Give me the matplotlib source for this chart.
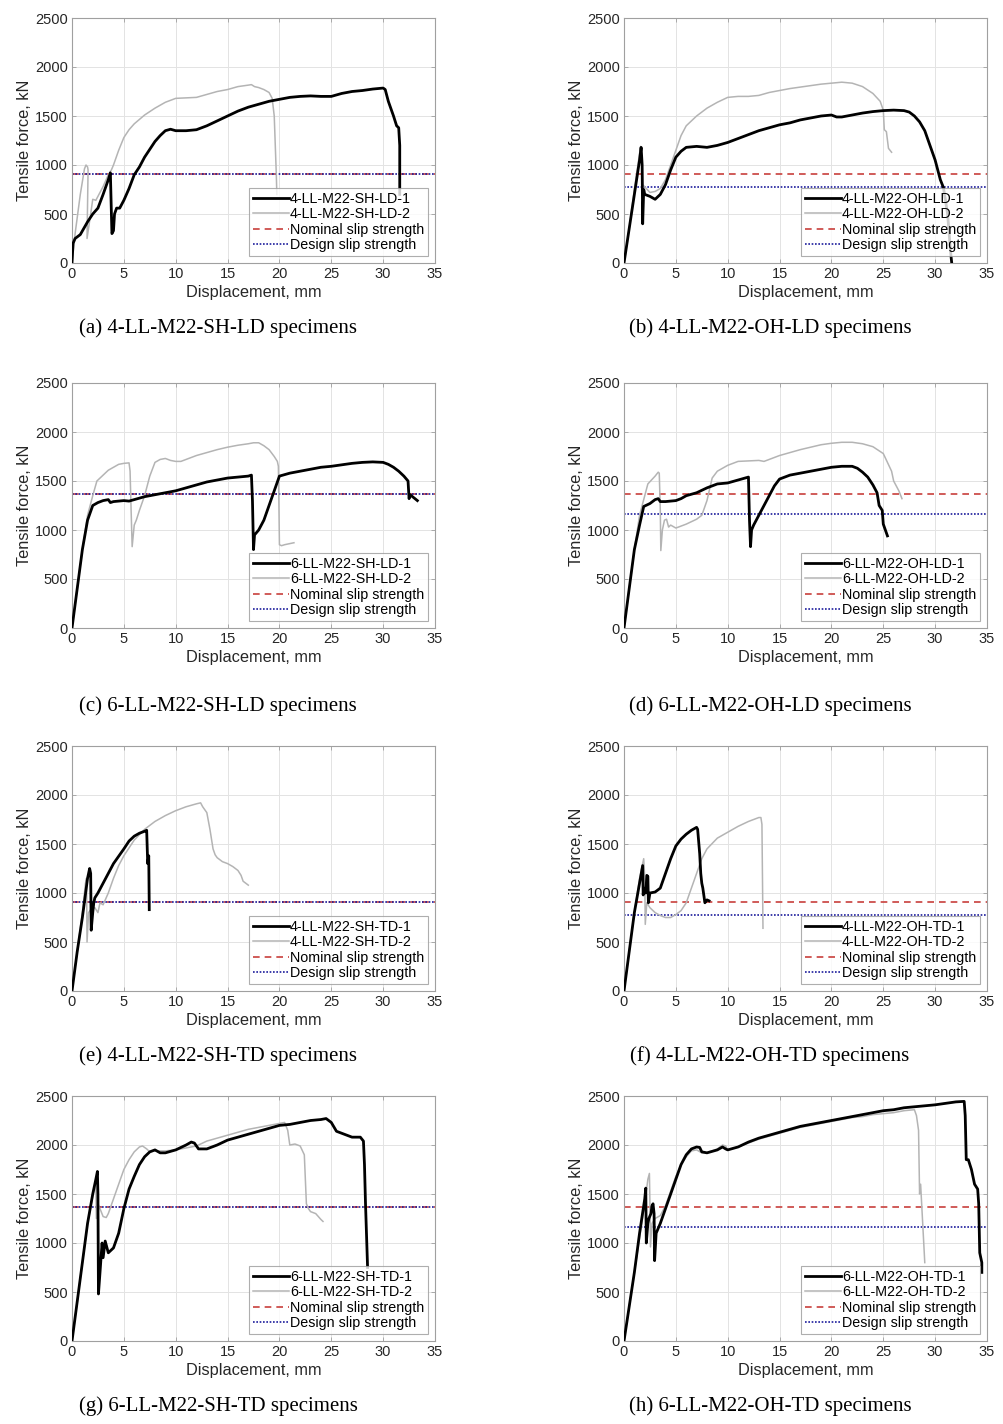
import matplotlib
matplotlib.use('Agg')
import matplotlib.pyplot as plt

plt.rcParams['font.family'] = ['Liberation Sans', 'DejaVu Sans']

# ---- data (displacement mm, force kN) ----
a1_x = [0, 0.1, 0.3, 0.8, 1.5, 2, 2.5, 3, 3.5, 3.7, 3.8, 3.85, 4.0, 4.1, 4.3, 4.6, 5, 5.5, 6, 6.5, 7, 7.5, 8, 8.5, 9, 9.5, 10, 11, 12, 13, 14, 15, 16, 17, 18, 19, 20, 21, 22, 23, 24, 25, 26, 27, 28, 29, 30, 30.2, 30.5, 31, 31.3, 31.5, 31.6, 31.6]
a1_y = [0, 200, 250, 290, 420, 500, 560, 700, 850, 920, 500, 300, 330, 500, 560, 560, 640, 760, 900, 980, 1080, 1160, 1240, 1300, 1350, 1365, 1350, 1350, 1360, 1400, 1450, 1500, 1550, 1590, 1620, 1650, 1670, 1690, 1700, 1705, 1700, 1700, 1730, 1750, 1760, 1775, 1785, 1770, 1650, 1500, 1400, 1380, 1200, 700]
a2_x = [0, 0.3, 0.8, 1.2, 1.35, 1.5, 1.55, 1.45, 1.8, 2.0, 2.3, 2.5, 3, 3.5, 3.8, 4, 4.5, 5, 5.5, 6, 7, 8, 9, 10, 11, 12, 13, 14, 15, 16, 17, 17.3, 17.6, 18, 18.5, 19, 19.3, 19.5, 19.6, 19.7, 19.75]
a2_y = [0, 300, 700, 960, 1000, 980, 950, 250, 500, 650, 640, 680, 780, 900, 950, 1000, 1150, 1280, 1360, 1420, 1510, 1580, 1640, 1680, 1685, 1690, 1720, 1750, 1770, 1800, 1815, 1820, 1800, 1790, 1770, 1740, 1680, 1500, 1200, 900, 700]

b1_x = [0, 0.5, 1, 1.5, 1.65, 1.75, 1.8, 1.9, 2.0, 2.5, 3, 3.5, 4, 4.5, 5, 5.5, 6, 7, 8, 9, 10, 11, 12, 13, 14, 15, 16, 17, 18, 19, 20, 20.5, 21, 22, 23, 24, 25, 26, 27, 27.5, 28, 28.5, 29, 29.5, 30, 30.5, 30.8, 31.2, 31.5, 31.6]
b1_y = [0, 350, 700, 1050, 1180, 1000, 400, 750, 700, 680, 650, 700, 800, 950, 1080, 1140, 1180, 1190, 1180, 1200, 1230, 1270, 1310, 1350, 1380, 1410, 1430, 1460, 1480, 1500, 1510, 1490, 1490, 1510, 1530, 1545, 1555, 1560, 1555, 1540, 1500, 1440, 1350, 1200, 1050, 850, 770, 500, 100, 0]
b2_x = [0, 0.5, 1, 1.6, 1.75, 1.8, 2.5, 3, 3.5, 4, 4.5, 5, 5.5, 6, 7, 8, 9, 10, 11, 12, 13, 14, 15, 16, 17, 18, 19, 20, 21, 22, 23, 24, 24.7, 25, 25.1, 25.3, 25.5, 25.8]
b2_y = [0, 350, 750, 1190, 1000, 800, 720, 730, 760, 850, 1000, 1150, 1300, 1400, 1500, 1580, 1640, 1690, 1700, 1700, 1710, 1740, 1760, 1780, 1795, 1810, 1825, 1835, 1845, 1835, 1800, 1730, 1650, 1560, 1360, 1340, 1170, 1130]

c1_x = [0, 0.5, 1, 1.5, 2, 2.5, 3, 3.5, 3.7, 4, 5, 5.5, 6, 7, 8, 9, 10, 11, 12, 13, 14, 15, 16, 17, 17.3, 17.4, 17.5, 17.6, 18, 18.5, 19, 19.5, 20, 21, 22, 23, 24, 25, 26, 27, 28, 29, 30, 30.5, 31, 31.5, 32, 32.4, 32.5, 32.6, 33.3]
c1_y = [0, 400, 800, 1100, 1250, 1280, 1300, 1310, 1280, 1290, 1300, 1295, 1310, 1340, 1360, 1380, 1400, 1430, 1460, 1490, 1510, 1530, 1540, 1550, 1560, 1300, 800, 950, 1000, 1100, 1250, 1400, 1550, 1580, 1600, 1620, 1640, 1650, 1665, 1680, 1690, 1695, 1690, 1670, 1640, 1600, 1550, 1500, 1320, 1360, 1300]
c2_x = [0, 0.5, 1, 1.5, 2, 2.4, 3, 3.5, 4, 4.5, 5, 5.5, 5.6, 5.7, 5.8, 6, 6.2, 6.5, 7, 7.5, 8, 8.5, 9, 9.5, 10, 10.5, 11, 12, 13, 14, 15, 16, 17, 17.5, 18, 18.5, 19, 19.5, 19.8, 19.9, 20, 20.2, 20.5, 21.4]
c2_y = [0, 400, 800, 1150, 1350, 1500, 1560, 1610, 1640, 1670, 1680, 1685, 1600, 1200, 830, 1050, 1100, 1200, 1350, 1550, 1690, 1720, 1730, 1710, 1700, 1700, 1720, 1760, 1790, 1820, 1845, 1865, 1880, 1890, 1890, 1860, 1820, 1750, 1700, 1650, 850, 840, 850, 870]

d1_x = [0, 0.5, 1, 1.5, 1.9, 2.5, 3, 3.3, 3.5, 4, 5, 5.5, 6, 7, 8, 9, 10, 11, 12, 12.1, 12.2, 12.3, 12.5, 13, 13.5, 14, 14.5, 15, 16, 17, 18, 19, 20, 21, 22, 22.5, 23, 23.5, 24, 24.4, 24.6, 24.9, 25, 25.4]
d1_y = [0, 400, 800, 1050, 1240, 1270, 1310, 1320, 1290, 1290, 1300, 1320, 1350, 1380, 1430, 1470, 1480, 1510, 1540, 1100, 830, 1000, 1050, 1150, 1250, 1350, 1450, 1520, 1560, 1580, 1600, 1620, 1640, 1650, 1650, 1630, 1590, 1540, 1460, 1380, 1250, 1200, 1060, 940]
d2_x = [0, 0.5, 1, 1.5, 2, 2.3, 3, 3.3, 3.4, 3.5, 3.55, 3.7, 3.9, 4.1, 4.3, 4.5, 5, 6, 7, 7.5, 8, 8.5, 9, 10, 11, 12, 13, 13.5, 14, 15, 16, 17, 18, 19, 20, 21, 22, 23, 24, 25, 25.8, 26, 26.5, 26.8]
d2_y = [0, 400, 800, 1150, 1350, 1470, 1550, 1590, 1580, 1200, 790, 1000, 1100, 1110, 1030, 1050, 1020, 1060, 1110, 1150, 1300, 1530, 1600, 1660, 1700, 1705, 1710, 1700, 1720, 1760, 1790, 1820, 1845, 1870, 1885, 1895, 1895, 1880, 1850, 1780, 1600, 1500, 1400, 1320]

e1_x = [0, 0.5, 1, 1.5, 1.7, 1.8, 1.85, 2.0, 2.1, 2.2, 2.5, 3, 3.5, 4, 5, 5.5, 6, 6.5, 7, 7.2, 7.3, 7.4, 7.45]
e1_y = [0, 400, 750, 1150, 1250, 1200, 620, 800, 900, 950, 1000, 1100, 1200, 1300, 1450, 1530, 1580, 1610, 1630, 1640, 1300, 1380, 830]
e2_x = [0, 0.5, 1, 1.3, 1.4, 1.45, 1.6, 1.8, 2.2, 2.5, 2.7, 3, 3.5, 4, 4.5, 5, 5.5, 6, 7, 8, 9, 10, 11, 12, 12.4, 12.6, 13, 13.3, 13.6, 13.8, 14, 14.5, 15, 15.5, 16, 16.3, 16.5, 17]
e2_y = [0, 400, 800, 1100, 1150, 500, 800, 830, 850, 800, 900, 880, 1000, 1150, 1280, 1380, 1460, 1540, 1650, 1730, 1790, 1840, 1880, 1910, 1920, 1880, 1820, 1650, 1450, 1390, 1360, 1320, 1300, 1270, 1230, 1180, 1120, 1080]

f1_x = [0, 0.5, 1, 1.5, 1.8, 1.85, 1.9, 2.1, 2.2, 2.3, 2.35, 2.5, 3, 3.5, 4, 4.5, 5, 5.5, 6, 6.5, 7, 7.1, 7.3, 7.4, 7.5, 7.6, 7.8, 8, 8.2]
f1_y = [0, 400, 800, 1100, 1280, 980, 1050, 1000, 1180, 1170, 900, 1000, 1010, 1050, 1200, 1350, 1480, 1550, 1600, 1640, 1670, 1650, 1400, 1200, 1100, 1050, 900, 930, 920]
f2_x = [0, 0.5, 1, 1.5, 1.9, 2.0, 2.05, 2.2, 2.5, 3, 3.5, 4, 4.5, 5, 5.5, 6, 6.5, 7, 7.5, 8, 9, 10, 11, 12, 13, 13.2, 13.3, 13.4]
f2_y = [0, 400, 800, 1150, 1350, 1150, 680, 900, 850, 800, 770, 750, 750, 780, 820, 900, 1050, 1200, 1350, 1450, 1560, 1620, 1680, 1730, 1770, 1770, 1700, 640]

g1_x = [0, 0.5, 1, 1.5, 2, 2.3, 2.45, 2.5, 2.55, 2.7, 2.9, 3.0, 3.2, 3.5, 4, 4.5, 5, 5.5, 6, 6.5, 7, 7.5, 8, 8.5, 9, 10, 11, 11.5, 11.8, 12.2, 13, 14, 15, 16, 17, 18, 19, 20, 21, 22, 23, 24, 24.5, 25, 25.5, 26, 26.5, 27, 27.8, 28.1, 28.2, 28.3, 28.5]
g1_y = [0, 400, 800, 1200, 1500, 1650, 1730, 1500, 480, 700, 1000, 850, 1020, 900, 950, 1100, 1350, 1550, 1680, 1800, 1880, 1930, 1950, 1920, 1920, 1950, 2000, 2030, 2020, 1960, 1960, 2000, 2050, 2080, 2110, 2140, 2170, 2200, 2210, 2230, 2250, 2260, 2270, 2230, 2140, 2120, 2100, 2080, 2080, 2040, 1800, 1400, 750]
g2_x = [0, 0.5, 1, 1.5, 2, 2.3, 2.35, 2.5, 2.7, 3, 3.3, 3.5, 4, 4.5, 5, 5.5, 6, 6.5, 6.8, 7.2, 7.5, 8, 9, 10, 11, 12, 13, 14, 15, 16, 17, 18, 19, 20, 20.5, 20.8, 21, 21.5, 22, 22.4, 22.6, 22.8, 23, 23.5, 24, 24.2]
g2_y = [0, 400, 800, 1200, 1480, 1600, 1250, 1400, 1350, 1270, 1260, 1300, 1450, 1600, 1750, 1850, 1930, 1980, 1990, 1960, 1930, 1940, 1940, 1950, 1970, 1990, 2040, 2070, 2100, 2130, 2160, 2180, 2200, 2220, 2230, 2150, 2000, 2010, 1990, 1900, 1400, 1350, 1320, 1300, 1240, 1220]

h1_x = [0, 0.5, 1, 1.5, 2, 2.1, 2.15, 2.3, 2.4, 2.6, 2.7, 2.8, 2.9, 2.95, 3.1, 3.3, 3.5, 4, 4.5, 5, 5.5, 6, 6.5, 7, 7.3, 7.5, 8, 9, 9.5, 9.8, 10, 11, 12, 13, 14, 15, 16, 17, 18, 19, 20, 21, 22, 23, 24, 25, 26, 27, 28, 29, 30, 31, 32, 32.8, 32.9, 33, 33.2, 33.5, 33.8, 34.1, 34.2, 34.3, 34.5, 34.5]
h1_y = [0, 350, 700, 1100, 1450, 1560, 1000, 1200, 1250, 1300, 1380, 1400, 1300, 820, 1100, 1150, 1200, 1350, 1500, 1650, 1800, 1900, 1960, 1980, 1975, 1930, 1920, 1950, 1980, 1960, 1950, 1980, 2030, 2070, 2100, 2130, 2160, 2190, 2210, 2230, 2250, 2270, 2290, 2310, 2330, 2350, 2360, 2380, 2390, 2400, 2410, 2425, 2440, 2445, 2300, 1850, 1850, 1750, 1600, 1550, 1400, 900, 800, 700]
h2_x = [0, 0.5, 1, 1.5, 2, 2.3, 2.45, 2.5, 2.55, 2.7, 3, 3.5, 4, 4.5, 5, 5.5, 6, 6.5, 7, 7.5, 8, 9, 9.5, 9.8, 10, 11, 12, 13, 14, 15, 16, 17, 18, 19, 20, 21, 22, 23, 24, 25, 26, 27, 28, 28.2, 28.4, 28.5, 28.6, 28.7, 29]
h2_y = [0, 350, 700, 1050, 1400, 1650, 1710, 1400, 960, 1200, 1250, 1280, 1380, 1530, 1680, 1800, 1880, 1940, 1950, 1920, 1920, 1960, 2000, 1990, 1950, 1980, 2020, 2060, 2090, 2120, 2150, 2180, 2200, 2220, 2240, 2260, 2280, 2290, 2310, 2320, 2330, 2350, 2360, 2300, 2150, 1500, 1600, 1400, 800]

# nominal / design slip strength (kN)
nominal = [910, 910, 1365, 1365, 910, 910, 1365, 1365]
design = [910, 775, 1365, 1160, 910, 775, 1365, 1160]

names = ['4-LL-M22-SH-LD', '4-LL-M22-OH-LD', '6-LL-M22-SH-LD', '6-LL-M22-OH-LD',
         '4-LL-M22-SH-TD', '4-LL-M22-OH-TD', '6-LL-M22-SH-TD', '6-LL-M22-OH-TD']
letters = ['a', 'b', 'c', 'd', 'e', 'f', 'g', 'h']
series = [(a1_x, a1_y, a2_x, a2_y), (b1_x, b1_y, b2_x, b2_y),
          (c1_x, c1_y, c2_x, c2_y), (d1_x, d1_y, d2_x, d2_y),
          (e1_x, e1_y, e2_x, e2_y), (f1_x, f1_y, f2_x, f2_y),
          (g1_x, g1_y, g2_x, g2_y), (h1_x, h1_y, h2_x, h2_y)]

W, H = 1004, 1424
fig = plt.figure(figsize=(W / 100, H / 100), dpi=100)

col_left = [72, 624]
row_top = [18, 383, 746, 1096]
cap_y = [328, 706, 1056, 1406]
cap_x = [218, 770]
ax_w, ax_h = 363, 245

for i in range(8):
    r, c = divmod(i, 2)
    ax = fig.add_axes([col_left[c] / W, 1 - (row_top[r] + ax_h) / H, ax_w / W, ax_h / H])
    x1, y1, x2, y2 = series[i]
    ax.plot(x1, y1, color='black', lw=2.0, label=names[i] + '-1', zorder=4)
    ax.plot(x2, y2, color='#b4b4b4', lw=1.1, label=names[i] + '-2', zorder=3)
    ax.axhline(nominal[i], color='#c8403c', ls=(0, (4, 3)), lw=1.2, label='Nominal slip strength', zorder=2)
    ax.axhline(design[i], color='#1c1c9c', ls=(0, (1, 1)), lw=1.2, label='Design slip strength', zorder=2)
    ax.set_xlim(0, 35)
    ax.set_ylim(0, 2500)
    ax.set_xticks(range(0, 36, 5))
    ax.set_yticks(range(0, 2501, 500))
    ax.grid(True, color='#e3e3e3', lw=0.7)
    ax.set_axisbelow(True)
    for s in ax.spines.values():
        s.set_color('#a0a0a0')
        s.set_linewidth(0.8)
    ax.tick_params(direction='in', length=3, width=0.6, color='#a0a0a0', labelsize=10.5,
                   labelcolor='#262626', top=True, right=True, pad=3)
    ax.set_xlabel('Displacement, mm', fontsize=11.8, color='#262626', labelpad=3)
    ax.set_ylabel('Tensile force, kN', fontsize=11.8, color='#262626', labelpad=2)
    leg = ax.legend(loc='lower right', fontsize=10.3, frameon=True, fancybox=False,
                    handlelength=2.5, handletextpad=0.1, labelspacing=0.1,
                    borderpad=0.25, borderaxespad=0.5)
    leg.get_frame().set_edgecolor('#9a9a9a')
    leg.get_frame().set_linewidth(0.8)
    leg.set_zorder(10)
    fig.text(cap_x[c] / W, 1 - cap_y[r] / H, '(%s) %s specimens' % (letters[i], names[i]),
             ha='center', va='center', fontsize=15, family='Liberation Serif')

fig.savefig('out.png', dpi=100)
